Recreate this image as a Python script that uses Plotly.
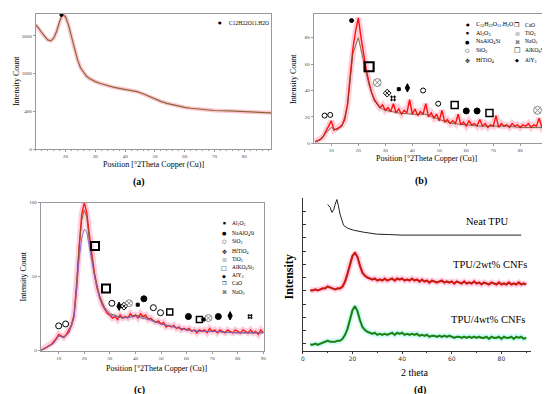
import plotly.graph_objects as go
import numpy as np

W, H = 550, 394
SERIF = "Liberation Serif"

# ---------------- (a) raw sucrose-like pattern (square-root intensity axis) ----------------
a_theta = [10,11,12,13,14,15,16,17,18,19,20,21,22,23,24,25,26,27,28,29,30,
           32,34,36,38,40,42,44,46,48,50,52,54,56,58,60,62,64,66,68,70,75,80,85,89]
a_counts = [4330,4100,3800,3550,3350,3290,3450,3900,4600,5100,4900,4300,3500,2800,2250,1860,
            1650,1500,1400,1330,1280,1200,1130,1080,1040,1000,970,930,860,780,700,640,590,
            550,520,490,470,455,440,430,420,410,400,385,370]
a_tick_counts = [0, 400, 1600, 3600]
a_c12_x, a_c12_y = [18.6], [5050]

# ---------------- (b) ----------------
b_theta = list(range(4, 91))
b_red = [1,2,3,5,9,14,17,10,11,12,14,18,30,52,72,85,95,80,66,55,46,38,33,30,27,29,25,27,24,30,
         23,26,22,25,23,33,22,26,21,24,22,30,20,23,19,22,17,25,16,18,15,17,15,22,14,16,13,17,
         14,15,13,18,13,15,12,14,13,21,12,15,13,14,12,15,13,14,12,14,13,15,12,14,13,19,12,14,13]
b_theta_s = [4,6,8,10,12,14,16,18,20,22,24,26,28,30,35,40,45,50,55,60,65,70,75,80,85,90]
b_dark = [1,3,8,12,10,13,28,68,80,62,44,32,27,25,23,22,22,18,15,14,13,13,13,12,12,12]
b_ticks = [0, 20, 40, 60, 80]

b_c12 = ([17.5], [93])
b_sio2 = ([7.5, 9.6, 44, 49.6], [21, 21.5, 40, 30])
b_alko = ([24], [58])
b_tio2 = ([27, 86.4], [46, 25])
b_hfti = ([30.7], [38])
b_nao2 = ([32.9], [34])
b_al2o3 = ([35], [41])
b_aly3 = ([38.2], [42])
b_cao = ([55.7, 68.6], [29, 23])
b_naalo = ([60, 64], [24.5, 24.5])

# ---------------- (c) ----------------
c_theta = list(range(3, 91))
c_red = [0,1,2,3,4,6,8,11,10,9,11,14,17,24,42,70,92,100,93,78,64,52,42,36,31,28,25,24,22,23,
         21,24,22,23,22,25,23,24,22,25,23,24,21,22,20,19,20,18,19,16,17,16,17,15,16,14,15,14,
         15,13,14,12,14,13,14,12,15,13,14,12,14,13,12,14,13,12,14,13,12,14,13,12,14,12,13,11,14,12]
c_theta_s = [3,5,8,10,12,14,16,18,19,20,21,22,24,26,28,30,35,40,45,50,55,60,65,70,80,90]
c_purple = [0,2,5,10,9,12,22,62,76,82,80,70,50,35,28,24,22,23,21,18,16,14,13,13,12,12]
c_brown = [0,2,5,10,9,12,24,70,88,95,90,74,52,37,29,25,22,24,22,18,16,14,13,13,12,12]
c_ticks = [0, 50, 100]

c_sio2 = ([10, 12.7, 30.8, 47, 49.8], [16.7, 18, 32, 29, 25.6])
c_alko = ([24.2, 28.5], [70.7, 42])
c_cao = ([53.4, 65], [26, 21])
c_aly3 = ([33.6, 77], [30, 23.5])
c_hfti = ([35.5], [30])
c_tio2 = ([37.5, 68.5], [32, 22])
c_al2o3 = ([40.9, 66.6], [31, 21])
c_naalo = ([43.3, 60.7, 72.4], [35, 23, 23])
c_nao2 = ([84.8], [23])

# ---------------- (d) stacked TPU patterns ----------------
d_neat_theta = [10,11,11.7,12.5,13,13.7,14.3,15,16.4,18,20.4,22,24.4,27,29.7,35,40,50,60,70,80,88]
d_neat = [31,28,23,26,31,36,30,21,10,7,5,4,3,2,1,0.5,0,0,0,0,0,0]
d_neat_offset = 117
d_theta = list(range(3, 91))
d_2wt = [1,1,2,1,2,3,3,5,4,3,2,3,3,5,10,18,28,36,39,35,26,19,16,14,13,12,13,11,12,11,13,11,
         12,13,11,13,12,13,11,12,11,13,11,12,10,12,10,11,9,11,10,9,10,11,9,10,9,10,8,10,9,8,
         10,8,9,8,10,8,9,7,9,8,7,9,8,7,9,7,8,7,9,7,8,7,9,7,8,7]
d_2wt_offset = 60
d_4wt = [1,1,2,1,2,3,4,5,4,4,4,5,5,7,11,17,27,36,40,35,26,19,16,14,13,12,13,11,12,11,12,11,
         12,13,11,13,12,13,11,12,11,12,11,12,10,11,10,11,9,10,10,9,10,9,10,9,10,9,8,9,9,8,9,
         8,9,8,9,8,9,8,8,9,7,9,8,8,9,7,9,8,8,9,7,9,8,9,7,8]
d_4wt_offset = 5

fig = go.Figure()

def line(x, y, ax, color, width):
    fig.add_trace(go.Scatter(x=x, y=y, mode="lines", xaxis="x" + ax, yaxis="y" + ax,
                             line=dict(color=color, width=width), showlegend=False,
                             hoverinfo="skip"))

def marks(pts, ax, symbol, size, color="black", lw=1):
    fig.add_trace(go.Scatter(x=pts[0], y=pts[1], mode="markers", xaxis="x" + ax, yaxis="y" + ax,
                             marker=dict(symbol=symbol, size=size, color=color,
                                         line=dict(color=color, width=lw)),
                             showlegend=False, hoverinfo="skip"))

# (a)
a_sqrt = np.sqrt(a_counts)
line(a_theta, a_sqrt, "", "rgba(255,90,120,0.35)", 4)
line(a_theta, a_sqrt, "", "#8a6a3a", 1.2)
marks((a_c12_x, np.sqrt(a_c12_y)), "", "circle", 3)

# (b)
line(b_theta, b_red, "2", "rgba(255,60,100,0.25)", 6)
line(b_theta, b_red, "2", "#ff1010", 1.4)
line(b_theta_s, b_dark, "2", "#6b4a2a", 0.8)
marks(b_c12, "2", "circle", 4)
marks(b_sio2, "2", "circle-open", 5)
marks(b_alko, "2", "square-open", 9, lw=2.2)
marks(b_tio2, "2", "circle-x-open", 8, color="#888")
marks(b_hfti, "2", "diamond-x-open", 6)
marks(b_nao2, "2", "hash-open", 6)
marks(b_al2o3, "2", "square", 3)
marks(b_aly3, "2", "diamond-tall", 6)
marks(b_cao, "2", "square-open", 7, lw=1.5)
marks(b_naalo, "2", "circle", 6)

# (c)
line(c_theta, c_red, "3", "rgba(255,60,120,0.25)", 6)
line(c_theta, c_red, "3", "#ff1a1a", 1.4)
line(c_theta_s, c_brown, "3", "#7a5a2a", 0.9)
line(c_theta_s, c_purple, "3", "#8060c8", 0.9)
marks(c_sio2, "3", "circle-open", 6)
marks(c_alko, "3", "square-open", 8, lw=2)
marks(c_cao, "3", "square-open", 6, lw=1.5)
marks(c_aly3, "3", "diamond-tall", 6)
marks(c_hfti, "3", "diamond-x-open", 6)
marks(c_tio2, "3", "circle-x-open", 7, color="#888")
marks(c_al2o3, "3", "square", 3)
marks(c_naalo, "3", "circle", 6)
marks(c_nao2, "3", "hash-open", 5)

# (d)
line(d_neat_theta, np.array(d_neat) + d_neat_offset, "4", "#222", 1)
y2 = np.array(d_2wt) + d_2wt_offset
line(d_theta, y2, "4", "rgba(255,80,160,0.25)", 6)
line(d_theta, y2, "4", "#ff1010", 2.2)
line(d_theta, y2, "4", "#6b3a1a", 0.8)
y4 = np.array(d_4wt) + d_4wt_offset
line(d_theta, y4, "4", "rgba(80,230,230,0.25)", 6)
line(d_theta, y4, "4", "#1fa01f", 2.2)
line(d_theta, y4, "4", "#2d5a10", 0.8)

tickfont = dict(family=SERIF, size=5, color="#444")

def xpx(a, b):
    return [a / W, b / W]

def ypx(top, bottom):
    return [1 - bottom / H, 1 - top / H]

box = dict(showline=True, mirror=True, linecolor="#999", linewidth=1, showgrid=False,
           zeroline=False, ticks="outside", ticklen=2, tickcolor="#999", tickfont=tickfont,
           ticklabeloverflow="allow")

fig.update_layout(
    width=W, height=H, margin=dict(l=0, r=0, t=0, b=0),
    paper_bgcolor="white", plot_bgcolor="white", showlegend=False,
    xaxis=dict(domain=xpx(26, 263), range=[10, 89], tickvals=[20, 30, 40, 50, 60, 70, 80],
               minor=dict(dtick=2, ticklen=1, tickcolor="#999", ticks="outside"),
               anchor="y", **box),
    yaxis=dict(domain=ypx(4, 141), range=[0, 71.6], tickvals=list(np.sqrt(a_tick_counts)),
               ticktext=[str(v) for v in a_tick_counts], anchor="x", **box),
    xaxis2=dict(domain=xpx(306, 542), range=[3.5, 90.3], tickvals=list(range(10, 91, 10)),
                anchor="y2", **box),
    yaxis2=dict(domain=ypx(4, 135), range=[0, 98], tickvals=b_ticks, anchor="x2", **box),
    xaxis3=dict(domain=xpx(31, 256), range=[3, 90.3], tickvals=list(range(10, 91, 10)),
                anchor="y3", **box),
    yaxis3=dict(domain=ypx(195, 345), range=[0, 100], tickvals=c_ticks, anchor="x3", **box),
    xaxis4=dict(domain=xpx(295, 525), range=[0, 92], tickvals=[0, 20, 40, 60, 80],
                showline=True, linecolor="#333", linewidth=1, showgrid=False, zeroline=False,
                ticks="outside", ticklen=2, tickcolor="#333",
                minor=dict(dtick=10, ticklen=1, ticks="outside", tickcolor="#333"),
                tickfont=dict(family="DejaVu Sans", size=6, color="#333"), anchor="y4"),
    yaxis4=dict(domain=ypx(190, 345), range=[0, 155], tick0=7, dtick=13.4,
                showline=True, linecolor="#333", linewidth=1, showgrid=False, zeroline=False,
                ticks="inside", ticklen=3, tickcolor="#333", showticklabels=False, anchor="x4"),
)

ann = []

def text(x, y, s, size, angle=0, anchor="center", color="black", family=SERIF):
    ann.append(dict(x=x / W, y=1 - y / H, xref="paper", yref="paper", text=s, showarrow=False,
                    xanchor=anchor, yanchor="middle", textangle=angle,
                    font=dict(family=family, size=size, color=color)))

# axis titles and panel labels
for (xt, yt, yx, yy, lx, ly, lab) in [(145, 156, 6, 72, 130, 174, "(a)"),
                                     (420, 150, 285, 70, 414, 173, "(b)"),
                                     (148, 363, 14, 270, 130, 385, "(c)")]:
    text(xt, yt, "Position [°2Theta Copper (Cu)]", 8)
    text(yx, yy, "Intensity Count", 8, angle=-90)
    text(lx, ly, "<b>" + lab + "</b>", 10)

text(281, 270, "<b>Intensity</b>", 12, angle=-90)
text(407, 367, "2 theta", 10)
text(413, 385, "<b>(d)</b>", 10)
text(481, 214, "Neat TPU", 10.5)
text(484, 258, "TPU/2wt% CNFs", 10.5)
text(481, 313, "TPU/4wt% CNFs", 10.5)

SYM = "DejaVu Sans"
# (a) legend
text(212, 13, "●", 4, family=SYM)
text(219, 13, "C12H22O11.H2O", 5.5, anchor="left")

# (b) legend
col1 = [("●", 4, "black", "C<sub>12</sub>H<sub>22</sub>O<sub>11</sub>.H<sub>2</sub>O"),
        ("■", 3, "black", "Al<sub>2</sub>O<sub>3</sub>"),
        ("●", 5, "black", "NaAlO<sub>4</sub>Si"),
        ("○", 5, "black", "SiO<sub>2</sub>"),
        ("✥", 6, "black", "HfTiO<sub>4</sub>")]
col2 = [("❐", 6, "black", "CaO"),
        ("⊛", 6, "#888", "TiO<sub>2</sub>"),
        ("⌘", 5, "black", "NaO<sub>2</sub>"),
        ("□", 7, "black", "AlKO<sub>8</sub>Si<sub>3</sub>"),
        ("◆", 5, "black", "AlY<sub>3</sub>")]
rows_b = [15, 23.5, 32, 41, 51]
for (s, sz, col, t), yy in zip(col1, rows_b):
    text(461, yy, s, sz, color=col, family=SYM)
    text(467, yy, t, 6, anchor="left")
for (s, sz, col, t), yy in zip(col2, rows_b):
    text(511, yy, s, sz, color=col, family=SYM)
    text(517, yy, t, 5.5, anchor="left")

# (c) legend
col_c = [("■", 3, "black", "Al<sub>2</sub>O<sub>3</sub>"),
         ("●", 5, "black", "NaAlO<sub>4</sub>Si"),
         ("○", 5, "black", "SiO<sub>2</sub>"),
         ("✥", 6, "black", "HfTiO<sub>4</sub>"),
         ("⊛", 6, "#888", "TiO<sub>2</sub>"),
         ("□", 6, "black", "AlKO<sub>8</sub>Si<sub>3</sub>"),
         ("◆", 5, "black", "AlY<sub>3</sub>"),
         ("❐", 5, "black", "CaO"),
         ("⌘", 5, "black", "NaO<sub>2</sub>")]
rows_c = [216, 226, 234, 245, 253, 261, 269, 277, 286]
for (s, sz, col, t), yy in zip(col_c, rows_c):
    text(216, yy, s, sz, color=col, family=SYM)
    text(222, yy, t, 5.5, anchor="left")

fig.update_layout(annotations=ann)
fig.write_html("out.html")
